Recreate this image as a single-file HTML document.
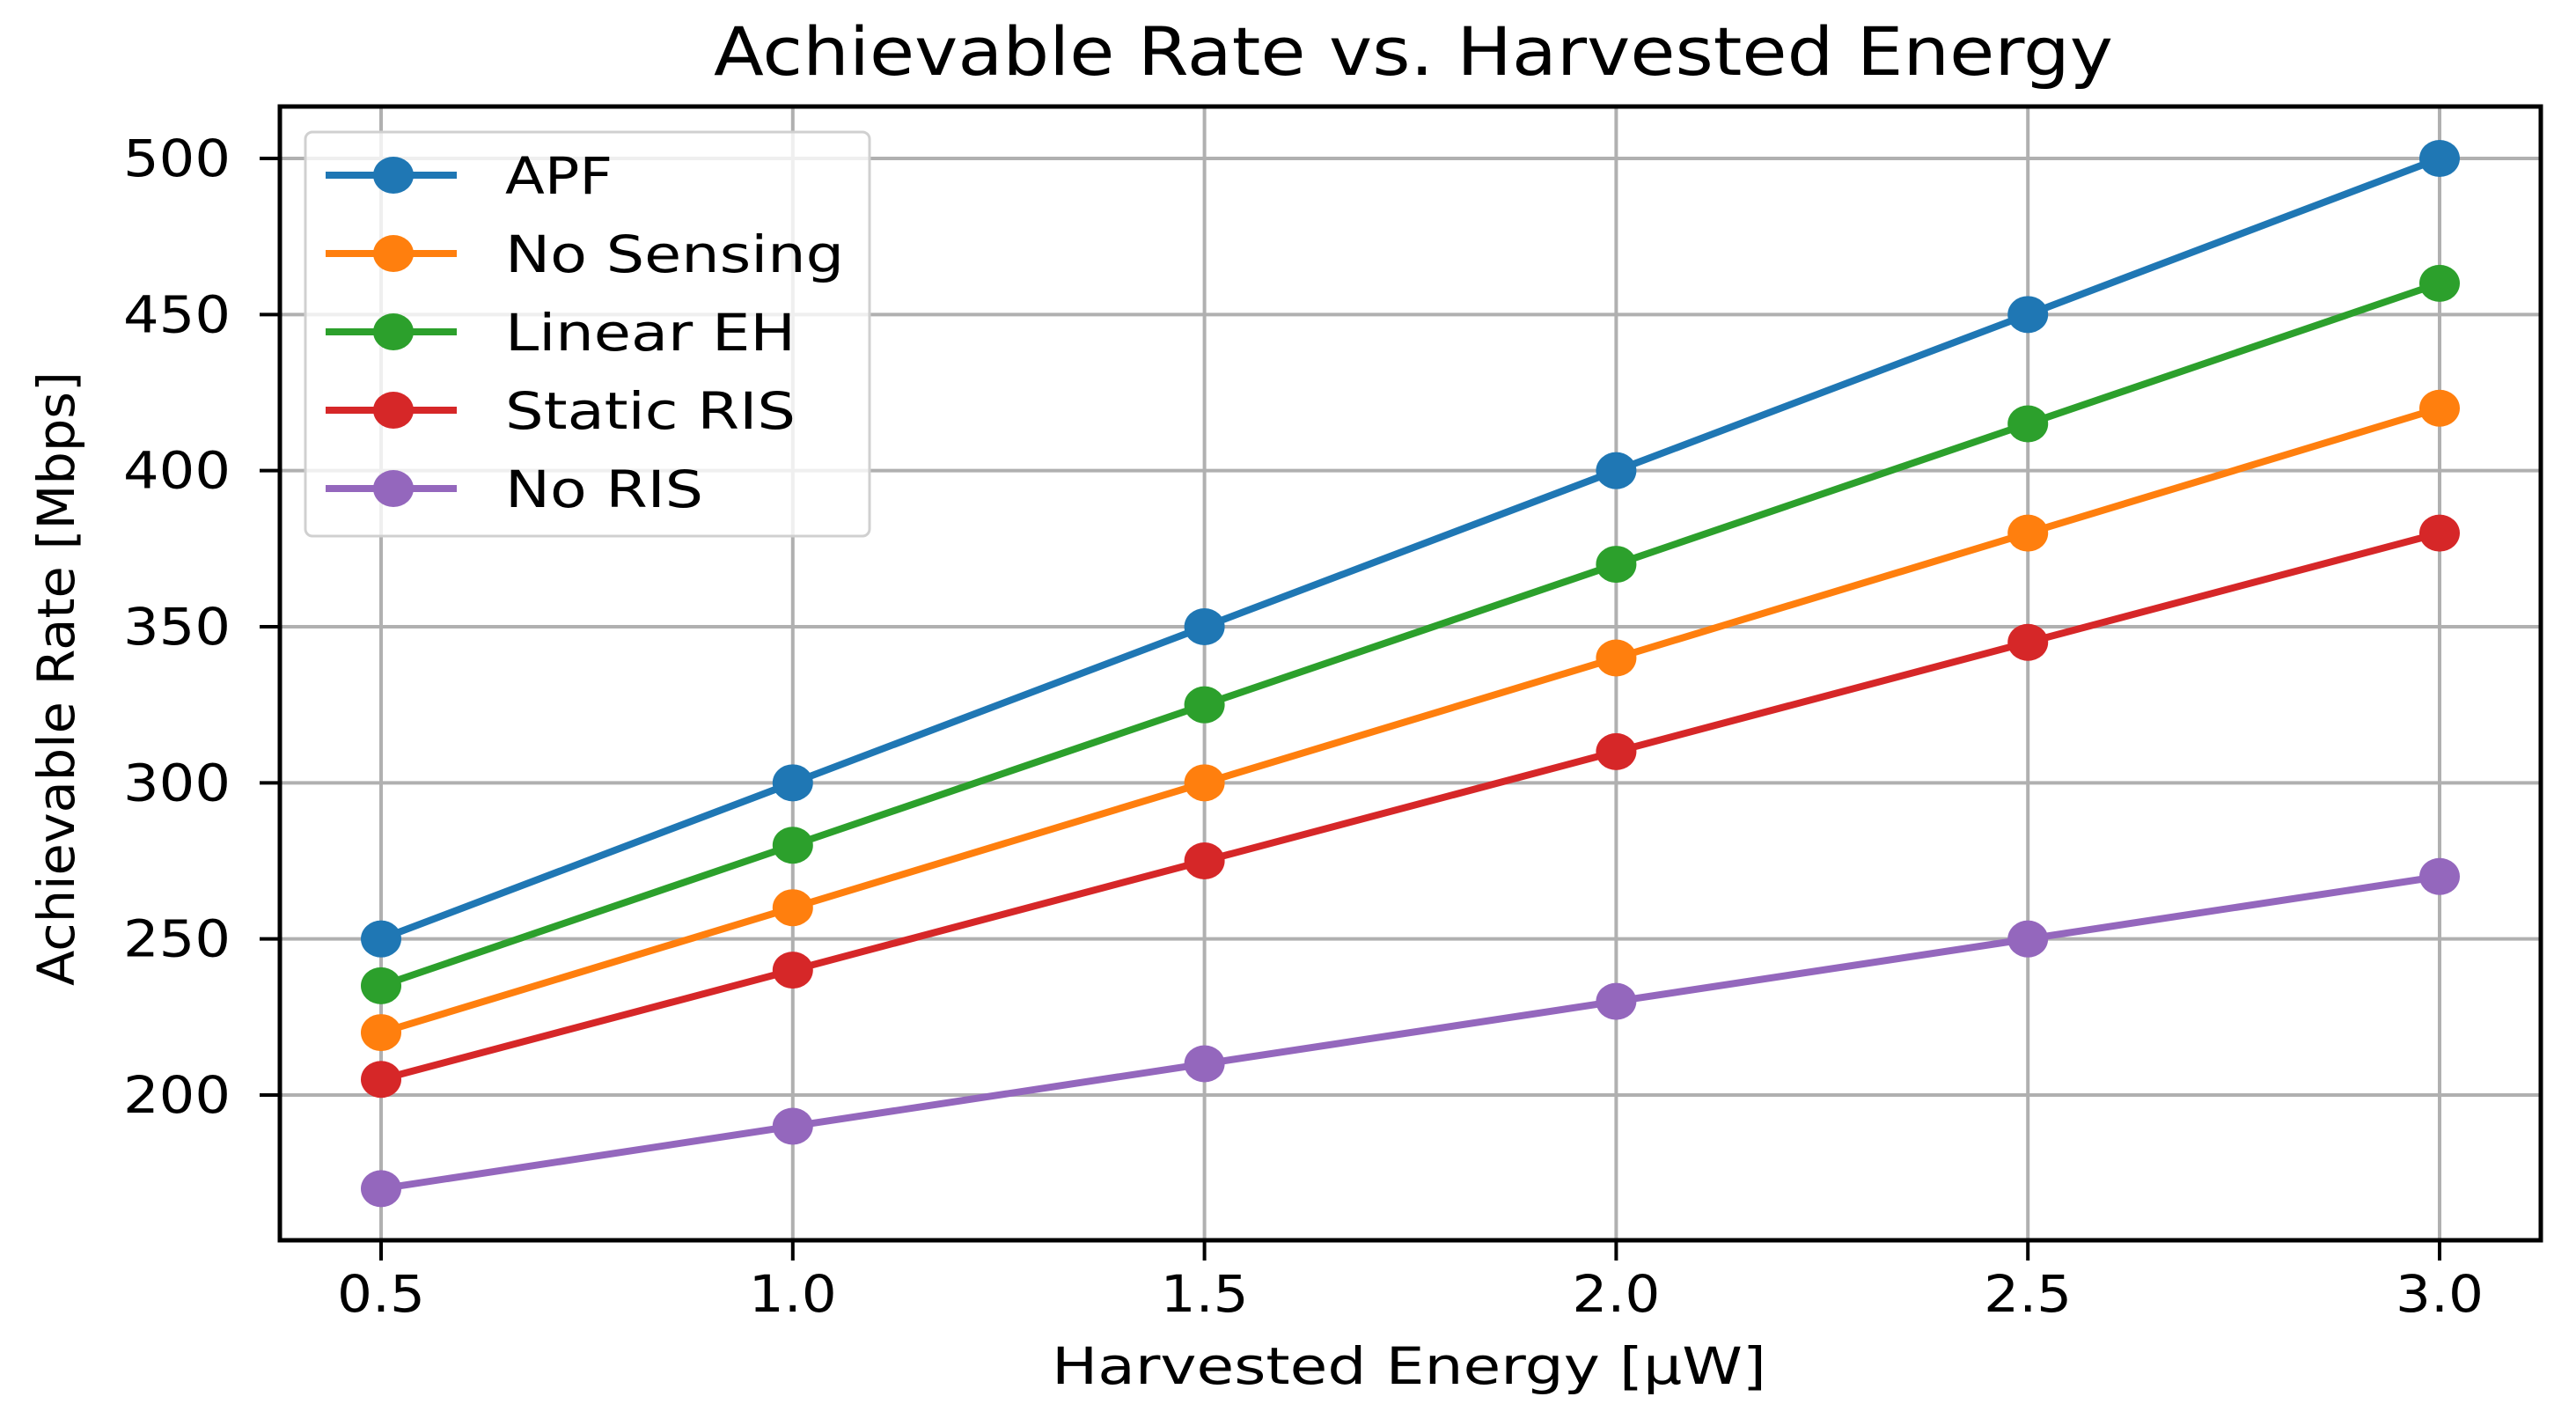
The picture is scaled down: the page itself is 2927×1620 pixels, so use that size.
<!DOCTYPE html>
<html><head><meta charset="utf-8"><style>
html,body{margin:0;padding:0;background:#fff;}
svg{display:block;font-family:"DejaVu Sans","Liberation Sans",sans-serif;}
</style></head><body>
<svg id="chart" width="2927" height="1620" viewBox="0 0 2927 1620" xmlns="http://www.w3.org/2000/svg">
<rect width="2927" height="1620" fill="#fff"/>
<g id="grid"></g>
<g id="series"></g>
<rect x="318" y="121" width="2569" height="1288" fill="none" stroke="#000" stroke-width="5"/>
<g id="ticks"></g>
<text x="1606" y="85" text-anchor="middle" font-size="76" textLength="1590" lengthAdjust="spacingAndGlyphs">Achievable Rate vs. Harvested Energy</text>
<text x="1601" y="1572" text-anchor="middle" font-size="58" textLength="812" lengthAdjust="spacingAndGlyphs">Harvested Energy [μW]</text>
<text x="0" y="0" transform="translate(84,771) rotate(-90)" text-anchor="middle" font-size="58" textLength="698" lengthAdjust="spacingAndGlyphs">Achievable Rate [Mbps]</text>
<g id="legend">
<rect x="347" y="150" width="641" height="459" rx="8" fill="#fff" fill-opacity="0.8" stroke="#d0d0d0" stroke-width="3"/>
</g>
</svg>
<script>
const xValues = [0.5, 1.0, 1.5, 2.0, 2.5, 3.0];
const xTicks = ["0.5", "1.0", "1.5", "2.0", "2.5", "3.0"];
const yTicks = [200, 250, 300, 350, 400, 450, 500];
const seriesNames = ["APF", "No Sensing", "Linear EH", "Static RIS", "No RIS"];
const apf = [250, 300, 350, 400, 450, 500];
const noSensing = [220, 260, 300, 340, 380, 420];
const linearEH = [235, 280, 325, 370, 415, 460];
const staticRIS = [205, 240, 275, 310, 345, 380];
const noRIS = [170, 190, 210, 230, 250, 270];
const seriesValues = [apf, noSensing, linearEH, staticRIS, noRIS];
const colors = ["#1f77b4", "#ff7f0e", "#2ca02c", "#d62728", "#9467bd"];
const legendTextWidths = [122, 385, 330, 330, 225];

const NS = "http://www.w3.org/2000/svg";
function xScale(v){ return 433 + (v - 0.5) * (2772 - 433) / 2.5; }
function yScale(v){ return 180 + (500 - v) * (1244 - 180) / 300; }
function mk(tag, attrs, parent){
  const e = document.createElementNS(NS, tag);
  for (const k in attrs) e.setAttribute(k, attrs[k]);
  parent.appendChild(e);
  return e;
}
const grid = document.getElementById('grid');
const ticks = document.getElementById('ticks');
xValues.forEach((v, i) => {
  const x = xScale(v);
  const g = mk('line', {x1:x, x2:x, y1:121, y2:1409, stroke:'#b0b0b0', 'stroke-width':4}, grid);
  
  
  const t = mk('line', {x1:x, x2:x, y1:1409, y2:1432, stroke:'#000', 'stroke-width':4}, ticks);
  
  
  const l = mk('text', {x:x, y:1490, 'text-anchor':'middle', 'font-size':58, textLength:100, lengthAdjust:'spacingAndGlyphs'}, ticks);
  l.textContent = xTicks[i];
  
  
});
yTicks.forEach(v => {
  const y = yScale(v);
  const g = mk('line', {x1:318, x2:2887, y1:y, y2:y, stroke:'#b0b0b0', 'stroke-width':4}, grid);
  
  
  const t = mk('line', {x1:295, x2:318, y1:y, y2:y, stroke:'#000', 'stroke-width':4}, ticks);
  
  
  const l = mk('text', {x:262, y:y + 20, 'text-anchor':'end', 'font-size':58, textLength:122, lengthAdjust:'spacingAndGlyphs'}, ticks);
  l.textContent = String(v);
  
  
});
const sg = document.getElementById('series');
seriesValues.forEach((vals, s) => {
  const g = mk('g', {}, sg);
  
  
  const pts = vals.map((v, i) => xScale(xValues[i]) + ',' + yScale(v)).join(' ');
  const pl = mk('polyline', {points:pts, fill:'none', stroke:colors[s], 'stroke-width':8}, g);
  
  
  vals.forEach((v, i) => {
    const c = mk('ellipse', {cx:xScale(xValues[i]), cy:yScale(v), rx:23, ry:21, fill:colors[s]}, g);
    
    
  });
});
const lg = document.getElementById('legend');
seriesNames.forEach((n, s) => {
  const y = 199 + s * 89;
  const g = mk('g', {}, lg);
  
  
  mk('line', {x1:370, x2:519, y1:y, y2:y, stroke:colors[s], 'stroke-width':8}, g);
  mk('ellipse', {cx:447, cy:y, rx:23, ry:21, fill:colors[s]}, g);
  const t = mk('text', {x:574, y:y + 21, 'font-size':58, textLength:legendTextWidths[s], lengthAdjust:'spacingAndGlyphs'}, g);
  t.textContent = n;
});
</script>
</body></html>
